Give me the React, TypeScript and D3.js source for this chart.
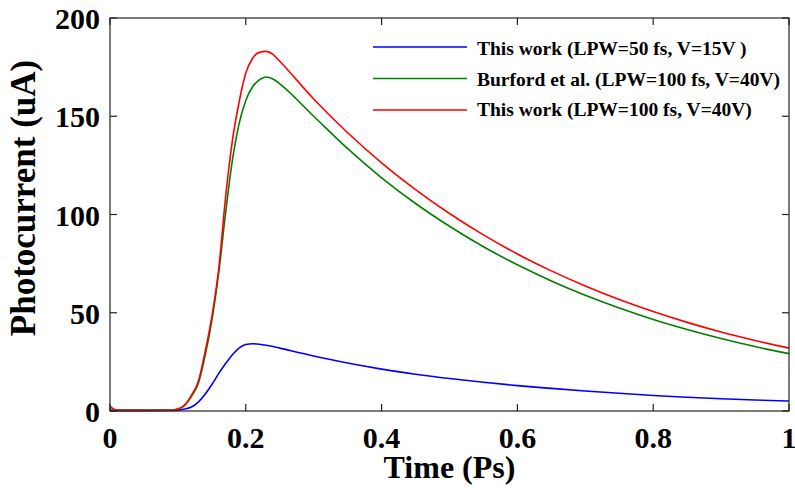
import React from "react";
import * as d3 from "d3";

const timePs = [0, 0.005, 0.01, 0.05, 0.09, 0.1, 0.11, 0.12, 0.13, 0.14, 0.15, 0.16, 0.17, 0.18, 0.19, 0.2, 0.21, 0.22, 0.23, 0.24, 0.25, 0.3, 0.35, 0.4, 0.45, 0.5, 0.55, 0.6, 0.65, 0.7, 0.75, 0.8, 0.85, 0.9, 0.95, 1.0];

const blueWork50 = [0.3, 0.3, 0.3, 0.3, 0.3, 0.4, 1, 2, 4.5, 8.5, 13.5, 19, 24, 28.5, 32, 33.8, 34.2, 34, 33.5, 32.8, 32, 28, 24.4, 21.3, 18.7, 16.5, 14.6, 12.9, 11.5, 10.2, 9.0, 7.9, 7.0, 6.2, 5.6, 5.1];
const greenBurford = [0.3, 0.3, 0.3, 0.3, 0.4, 1, 3, 7.5, 14, 28, 46, 70, 100, 127, 146, 158, 165, 168.5, 170, 169, 166.5, 150, 133.5, 118.7, 105.6, 94, 83.6, 74.4, 66.2, 58.9, 52.4, 46.6, 41.5, 36.9, 32.8, 29.2];
const redWork100 = [2.5, 1, 0.3, 0.3, 0.4, 1, 3, 8, 15, 30, 48, 72, 108, 137, 157, 172, 179.5, 182.5, 183, 181.5, 178, 158.8, 141.6, 126.3, 112.7, 100.5, 89.6, 79.9, 71.3, 63.6, 56.7, 50.6, 45.1, 40.2, 35.9, 32];

const xTicks = [0, 0.2, 0.4, 0.6, 0.8, 1];
const xTickLabels = ["0", "0.2", "0.4", "0.6", "0.8", "1"];
const yTicks = [0, 50, 100, 150, 200];
const yTickLabels = ["0", "50", "100", "150", "200"];

const seriesNames = [
  "This work (LPW=50 fs, V=15V )",
  "Burford et al. (LPW=100 fs, V=40V)",
  "This work (LPW=100 fs, V=40V)",
];
const seriesColors = ["#0000ff", "#008000", "#ff0000"];
const seriesValues = [blueWork50, greenBurford, redWork100];

const W = 795;
const H = 497;
const L = 110, R = 789, T = 18, B = 411;
const FONT = "'Liberation Serif', 'Times New Roman', serif";

export default function App() {
  const x = d3.scaleLinear().domain([0, 1]).range([L, R]);
  const y = d3.scaleLinear().domain([0, 200]).range([B, T]);
  const line = d3
    .line<number>()
    .x((_, i) => x(timePs[i]))
    .y((v) => y(v))
    .curve(d3.curveMonotoneX);
  const tickLen = 7;

  return (
    <svg width={W} height={H} style={{ position: "absolute", left: 0, top: 0, background: "#fff" }}>
      <rect x={0} y={0} width={W} height={H} fill="#fff" />
      {seriesValues.map((vals, i) => (
        <path key={i} d={line(vals) || ""} fill="none" stroke={seriesColors[i]} strokeWidth={1.6} strokeLinejoin="round" />
      ))}
      <rect x={L} y={T} width={R - L} height={B - T} fill="none" stroke="#222" strokeWidth={1.2} />
      {xTicks.map((t, i) => (
        <g key={"x" + i}>
          <line x1={x(t)} x2={x(t)} y1={B} y2={B - tickLen} stroke="#222" strokeWidth={1.2} />
          <line x1={x(t)} x2={x(t)} y1={T} y2={T + tickLen} stroke="#222" strokeWidth={1.2} />
          <text x={x(t)} y={448} textAnchor="middle" fontFamily={FONT} fontWeight="bold" fontSize={30} fill="#000">
            {xTickLabels[i]}
          </text>
        </g>
      ))}
      {yTicks.map((t, i) => (
        <g key={"y" + i}>
          <line x1={L} x2={L + tickLen} y1={y(t)} y2={y(t)} stroke="#222" strokeWidth={1.2} />
          <line x1={R} x2={R - tickLen} y1={y(t)} y2={y(t)} stroke="#222" strokeWidth={1.2} />
          <text x={100} y={y(t) + 11} textAnchor="end" fontFamily={FONT} fontWeight="bold" fontSize={30} fill="#000">
            {yTickLabels[i]}
          </text>
        </g>
      ))}
      <text x={(L + R) / 2} y={478} textAnchor="middle" fontFamily={FONT} fontWeight="bold" fontSize={32} fill="#000">
        Time (Ps)
      </text>
      <text
        transform={`translate(35, 198) rotate(-90)`}
        textAnchor="middle"
        fontFamily={FONT}
        fontWeight="bold"
        fontSize={35}
        fill="#000"
      >
        Photocurrent (uA)
      </text>
      {seriesNames.map((name, i) => (
        <g key={"l" + i}>
          <line x1={373} x2={467} y1={47 + i * 31.5} y2={47 + i * 31.5} stroke={seriesColors[i]} strokeWidth={1.6} />
          <text x={477} y={55 + i * 30.5} fontFamily={FONT} fontWeight="bold" fontSize={19.5} fill="#000">
            {name}
          </text>
        </g>
      ))}
    </svg>
  );
}
